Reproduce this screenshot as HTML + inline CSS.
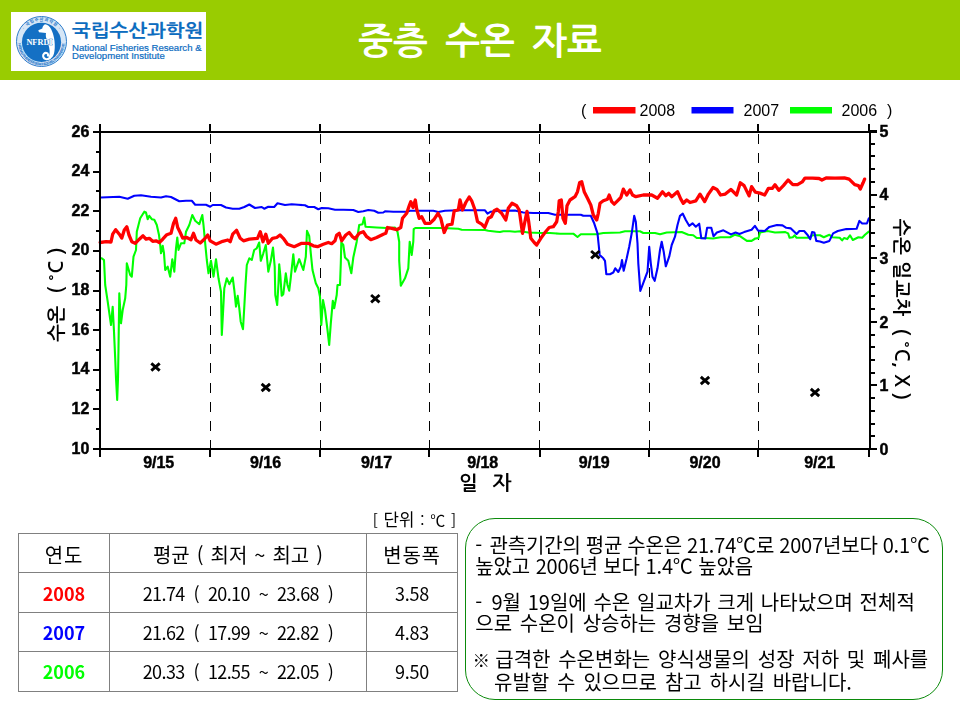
<!DOCTYPE html>
<html lang="ko"><head><meta charset="utf-8"><title>중층 수온 자료</title>
<style>
html,body{margin:0;padding:0;}
body{width:960px;height:720px;position:relative;overflow:hidden;background:#fff;font-family:"Liberation Sans","Noto Sans CJK KR",sans-serif;color:#000;}
.hdr{position:absolute;left:0;top:0;width:960px;height:80px;background:#99cc00;}
.logo{position:absolute;left:11px;top:12px;width:195px;height:59px;background:#fff;}
.title{position:absolute;left:0;top:16.5px;width:960px;text-align:center;color:#fff;font-family:"NanumGothic","Noto Sans CJK KR",sans-serif;font-weight:bold;font-size:37px;line-height:50px;word-spacing:7px;white-space:pre;}
.lk{position:absolute;left:61px;top:6.5px;font-family:"NanumGothic","Noto Sans CJK KR",sans-serif;font-weight:bold;font-size:18px;line-height:24px;color:#0c6cbf;white-space:nowrap;transform:scaleX(1.108);transform-origin:0 0;-webkit-text-stroke:0.15px #0c6cbf;}
.le{position:absolute;left:61px;top:31.8px;font-family:"Liberation Sans",sans-serif;font-size:9.6px;line-height:8.5px;color:#0c6cbf;white-space:nowrap;-webkit-text-stroke:0.2px #0c6cbf;}
.chart{position:absolute;left:0;top:0;}
.unit{position:absolute;left:372.7px;top:508.5px;font-family:"Noto Sans CJK KR",sans-serif;font-weight:400;font-size:15px;line-height:20px;white-space:pre;word-spacing:1.6px;}
table{position:absolute;left:18px;top:533px;border-collapse:collapse;font-family:"Noto Sans CJK KR",sans-serif;font-size:18px;font-weight:400;}
td{border:1px solid #808080;height:38.4px;padding:0;text-align:center;white-space:pre;line-height:38px;}
td.y{width:90px;font-weight:bold;}
td.m{width:256px;letter-spacing:-0.6px;word-spacing:4.4px;}
td.r{width:90px;letter-spacing:-0.3px;}
td.h{font-size:20px;font-weight:400;letter-spacing:0;word-spacing:1.4px;padding-top:3.5px;line-height:34.5px;height:34.9px;}
td.y.h,td.r.h{letter-spacing:0.8px;}
.box{position:absolute;left:465px;top:518px;width:476px;height:180px;border:1.2px solid #0b8a0b;border-radius:30px;background:#fff;}
.box p{position:absolute;left:11px;margin:0;font-family:"Noto Sans CJK KR",sans-serif;font-size:20px;font-weight:400;line-height:21.25px;white-space:pre;}
</style></head><body><div id="pg" style="position:absolute;left:0;top:0;width:960px;height:720px;opacity:0.999">
<div class="hdr"></div>
<div class="logo">
<svg width="195" height="59" viewBox="0 0 195 59" style="position:absolute;left:0;top:0">
<defs><path id="ringT" d="M 9.2 30 A 21.3 21.3 0 0 1 51.8 30"/><path id="ringB" d="M 7.2 30 A 23.3 23.3 0 0 0 53.8 30"/></defs>
<circle cx="30.5" cy="29.5" r="25" fill="#d6e6f6" stroke="#2b7bcb" stroke-width="1"/>
<text font-family="Liberation Sans, 'Noto Sans CJK KR', sans-serif" font-weight="bold" font-size="4.2" fill="#2b7bcb"><textPath href="#ringT" startOffset="50%" text-anchor="middle" textLength="40">· 국립수산과학원 ·</textPath></text>
<text font-family="Liberation Sans, sans-serif" font-weight="bold" font-size="3.6" fill="#2b7bcb"><textPath href="#ringB" startOffset="50%" text-anchor="middle" textLength="70">NATIONAL FISHERIES RESEARCH &amp; DEVELOPMENT INSTITUTE</textPath></text>
<circle cx="30.5" cy="30.3" r="19.6" fill="#1470c4"/>
<path d="M34 12.3C36.5 12.5 39 14.5 40.3 17.5C41.8 20.5 43 24.5 43.5 29C44 34 43.9 38 43 41.5C42.2 44.3 40.8 46 39 47L37.3 45C38.5 43.5 38.8 41 38.6 38.5C38.3 34.5 36.8 31 35.6 27.5C34.9 25.3 34.6 23 35 21L28 20.3L27.3 18.3L31.3 16.6C31.6 14.6 32.5 12.9 34 12.3Z" fill="#fff"/>
<path d="M39.3 45.4C37.5 48 33 47.8 32.2 44.6C31.7 42.2 33.6 40.5 35.6 41C37.2 41.5 37.6 43.4 36.3 44.2" fill="none" stroke="#fff" stroke-width="2.1"/>
<text x="15.4" y="32.9" font-family="Liberation Serif, serif" font-weight="bold" font-size="9" fill="#fff" stroke="#1470c4" stroke-width="0.7" paint-order="stroke" textLength="26.2" lengthAdjust="spacingAndGlyphs">NFRDI</text>
</svg>
<div class="lk">국립수산과학원</div>
<div class="le">National Fisheries Research &amp;<br>Development Institute</div>
</div>
<div class="title">중층 수온 자료</div>
<svg class="chart" width="960" height="720" viewBox="0 0 960 720">
<line x1="210.5" y1="134.2" x2="210.5" y2="449.0" stroke="#000" stroke-width="1" stroke-dasharray="10 9.1" shape-rendering="crispEdges"/>
<line x1="320.5" y1="134.2" x2="320.5" y2="449.0" stroke="#000" stroke-width="1" stroke-dasharray="10 9.1" shape-rendering="crispEdges"/>
<line x1="429.5" y1="134.2" x2="429.5" y2="449.0" stroke="#000" stroke-width="1" stroke-dasharray="10 9.1" shape-rendering="crispEdges"/>
<line x1="539.5" y1="134.2" x2="539.5" y2="449.0" stroke="#000" stroke-width="1" stroke-dasharray="10 9.1" shape-rendering="crispEdges"/>
<line x1="649.5" y1="134.2" x2="649.5" y2="449.0" stroke="#000" stroke-width="1" stroke-dasharray="10 9.1" shape-rendering="crispEdges"/>
<line x1="758.5" y1="134.2" x2="758.5" y2="449.0" stroke="#000" stroke-width="1" stroke-dasharray="10 9.1" shape-rendering="crispEdges"/>
<polyline points="100.5,258.3 101.8,258.3 104.0,260.0 105.2,285.0 107.7,301.7 111.0,325.0 112.7,306.7 114.0,331.7 115.2,358.3 116.0,378.3 117.2,400.0 118.0,378.3 118.5,348.3 119.3,293.3 121.0,323.3 122.7,310.0 125.2,298.3 126.3,285.0 126.8,263.3 130.2,275.0 131.8,276.7 133.5,256.7 136.0,250.0 136.8,231.7 140.2,218.3 144.3,211.7 146.0,212.5 147.7,219.2 149.3,215.8 151.8,219.2 154.3,219.7 156.8,225.0 159.0,235.0 160.2,245.0 161.0,253.3 162.7,245.8 164.0,253.3 165.2,270.0 167.7,266.7 170.2,276.7 172.3,259.2 174.3,271.7 176.0,248.3 177.3,237.5 178.5,250.0 181.0,243.3 184.3,243.3 186.0,231.7 189.3,225.0 192.3,215.0 195.2,220.8 199.3,224.2 202.3,215.0 203.5,225.0 205.2,243.3 206.8,260.0 208.5,273.3 211.0,260.8 213.5,276.7 216.0,259.2 218.5,278.3 221.0,291.7 221.8,335.0 223.0,313.3 224.3,288.3 226.8,278.3 229.3,284.2 232.7,277.5 234.3,290.0 236.0,306.7 237.7,295.8 239.3,308.3 240.7,321.7 243.0,329.2 244.3,306.7 245.5,285.0 246.8,265.0 249.3,258.3 251.8,260.0 254.2,250.0 256.7,248.3 259.2,242.5 260.8,260.8 263.3,253.3 265.8,245.0 268.3,271.7 270.8,260.8 273.0,247.5 274.7,266.7 275.3,295.0 277.2,305.0 278.5,283.3 279.2,264.2 280.3,275.0 281.7,295.8 283.3,294.2 285.8,273.3 287.5,285.0 289.2,290.8 290.8,277.5 293.3,254.2 295.0,271.7 299.2,259.2 303.3,270.0 305.8,256.7 307.0,230.8 309.2,235.8 310.8,253.3 312.5,270.0 315.8,283.3 318.3,288.3 320.0,296.7 321.3,325.0 323.0,300.0 325.0,310.0 327.5,330.0 329.2,345.0 330.8,323.3 332.8,300.8 334.2,308.3 336.7,295.0 337.5,285.0 340.0,285.0 340.8,263.3 341.3,242.5 343.3,245.0 345.0,257.5 348.3,260.8 351.3,273.3 353.3,257.5 356.7,241.7 359.2,225.0 362.5,224.2 364.2,217.5 365.5,226.7 376.7,227.5 386.7,228.0 395.0,227.5 397.5,231.7 399.2,241.7 399.2,260.8 400.8,285.8 405.0,278.3 408.3,268.3 409.7,241.7 411.7,255.0 413.3,241.7 413.7,229.2 415.3,228.0 441.7,228.0 458.3,228.7 461.7,229.7 485.0,230.0 488.3,230.8 496.7,231.7 500.0,232.0 503.3,231.2 510.0,231.2 515.0,231.7 520.0,231.2 528.3,232.5 541.7,233.0 550.0,233.0 560.0,233.7 573.3,233.7 577.5,237.0 580.8,234.2 596.7,234.2 603.3,233.0 620.0,232.5 625.0,231.3 640.0,231.3 643.3,233.0 655.0,233.0 660.0,234.2 666.7,232.5 681.7,232.0 688.3,234.7 693.3,235.3 696.7,238.0 705.0,238.0 713.1,238.5 720.6,237.2 730.0,237.2 734.7,234.8 740.3,236.3 746.9,240.9 751.6,240.9 755.3,238.5 758.5,238.1 760.0,232.5 767.5,231.0 775.0,232.5 785.3,232.1 788.1,233.4 789.6,237.8 792.8,237.2 794.7,235.3 796.6,237.8 809.7,237.8 812.5,235.3 820.0,235.3 823.8,237.2 829.4,234.8 832.2,237.2 839.7,237.8 842.1,240.4 844.0,238.1 847.2,239.1 850.0,235.3 852.8,240.0 858.4,237.2 862.2,237.8 865.0,234.8 868.8,231.6" fill="none" stroke="#00ff00" stroke-width="2.1" stroke-linejoin="round" stroke-linecap="round"/>
<polyline points="101.0,197.5 119.3,196.7 127.7,198.7 134.3,195.8 141.0,195.3 151.0,196.7 161.0,197.5 166.0,196.2 171.0,197.0 179.3,201.3 186.0,200.8 191.8,200.8 195.2,204.7 206.0,204.7 210.2,206.7 212.7,205.0 221.0,205.0 226.0,207.5 232.7,208.7 239.3,208.7 244.3,207.0 249.3,204.5 255.0,208.0 261.7,207.0 264.2,208.7 268.3,206.7 274.2,207.0 277.5,203.3 285.0,205.0 291.7,204.2 298.3,204.7 305.0,205.3 308.3,207.0 314.2,207.0 318.3,209.2 321.7,208.0 328.3,208.3 335.0,209.7 343.3,209.7 353.3,210.0 358.3,212.0 363.3,211.3 368.3,210.0 374.2,210.8 378.3,212.8 383.3,212.5 385.0,211.3 393.3,211.7 406.7,211.7 410.0,210.8 433.3,210.8 438.3,212.0 445.0,210.8 458.3,210.3 485.0,210.3 487.5,213.7 490.8,211.7 500.0,210.8 515.0,210.5 523.3,212.5 533.3,213.0 548.3,213.0 555.0,214.7 560.0,214.7 580.8,214.7 583.3,215.8 590.8,215.8 594.2,223.3 597.5,233.3 598.7,245.0 599.7,255.0 603.3,258.3 605.0,260.8 606.3,274.2 610.0,274.2 613.3,272.5 615.3,268.3 618.3,272.0 620.8,266.7 622.0,260.0 623.7,270.8 626.7,258.3 629.2,246.7 631.7,233.3 634.2,215.8 635.8,221.7 637.5,243.3 638.3,263.3 640.3,291.0 645.0,278.3 647.5,271.7 649.2,246.7 650.8,263.3 652.5,276.7 654.7,280.8 657.5,268.3 660.0,250.0 661.7,241.7 663.7,251.7 665.8,266.3 669.2,256.7 671.7,245.0 675.0,236.7 677.5,225.0 680.0,215.8 682.8,213.7 685.8,220.0 689.2,225.8 692.5,223.3 695.8,226.7 699.2,223.7 701.3,238.3 705.3,238.5 707.1,227.8 711.3,227.8 713.5,236.3 716.9,232.5 723.4,230.3 730.9,234.4 735.6,232.5 739.4,234.0 744.1,232.1 751.6,229.7 754.9,225.9 758.1,230.6 764.7,231.0 769.4,226.9 776.9,225.0 782.5,225.4 786.3,227.8 790.9,228.4 796.6,234.0 799.4,231.0 804.1,231.0 807.8,235.3 810.3,239.1 812.1,232.1 814.4,232.5 816.3,240.9 820.0,241.5 823.8,242.8 829.4,240.9 833.1,233.4 837.8,231.0 846.3,229.1 856.6,228.8 859.4,220.9 862.2,223.5 866.9,223.5 868.8,218.4" fill="none" stroke="#0000ff" stroke-width="2.1" stroke-linejoin="round" stroke-linecap="round"/>
<polyline points="100.2,242.5 106.0,241.7 111.0,242.0 112.7,234.2 115.7,229.7 119.3,234.2 121.8,238.0 124.3,230.0 126.8,226.7 129.0,235.0 131.8,241.7 135.2,243.3 139.3,239.2 143.0,235.8 146.0,239.2 149.3,238.3 152.7,241.3 156.0,240.8 159.3,242.5 162.7,239.2 166.8,234.7 171.0,233.3 173.5,223.3 175.7,218.3 177.7,227.5 180.2,232.5 182.7,238.0 186.8,237.5 191.0,239.7 193.5,233.3 196.0,240.0 200.2,243.0 204.3,239.2 207.7,235.0 210.2,240.8 216.0,244.2 222.7,241.3 227.7,240.0 230.2,241.7 232.7,234.2 236.5,230.3 240.2,238.3 243.5,240.8 249.3,239.2 257.5,238.3 260.3,231.7 263.0,241.7 265.8,234.2 268.3,243.3 272.5,238.3 276.7,237.5 280.0,235.0 283.3,238.3 287.5,244.2 294.2,246.7 301.7,243.3 308.3,243.3 313.3,245.8 317.5,246.7 323.3,244.2 328.3,242.5 331.7,243.7 335.0,240.8 336.7,235.0 339.2,233.3 341.7,240.8 345.8,235.0 349.2,232.5 352.5,236.7 355.0,238.7 359.2,233.3 363.3,231.7 366.7,236.7 370.8,239.7 376.7,237.5 383.3,234.2 385.8,233.3 387.5,227.5 391.7,228.3 396.7,229.7 400.8,227.5 402.5,218.3 406.7,213.3 409.2,205.8 410.8,201.7 413.0,207.5 415.3,200.0 416.7,209.2 419.2,218.3 421.7,216.7 425.0,223.3 430.0,223.3 434.2,219.2 438.0,213.3 440.8,218.3 444.2,232.5 447.5,225.0 452.0,224.2 454.2,210.8 458.3,210.0 460.0,200.0 462.5,210.0 465.8,202.5 469.2,197.0 471.7,200.8 475.0,210.0 477.5,221.7 481.7,224.2 484.7,227.5 488.3,218.3 491.3,216.7 494.2,210.8 497.0,209.2 501.7,213.3 505.8,220.0 508.3,208.3 512.0,203.3 516.7,205.8 519.2,210.0 522.5,233.3 524.2,225.0 527.0,211.3 528.7,221.7 530.8,238.3 534.2,242.5 536.7,245.0 540.8,238.3 545.0,232.5 549.2,227.5 553.3,226.7 556.7,221.7 558.3,211.7 559.2,200.8 561.3,200.0 563.0,218.3 565.3,223.3 567.0,205.8 570.0,200.0 575.0,196.7 577.5,191.7 579.7,182.5 581.7,181.7 584.2,191.7 587.5,198.3 590.8,205.0 593.3,215.0 596.7,220.0 598.3,213.3 600.0,203.3 603.3,200.8 607.5,199.2 609.2,195.0 611.7,201.7 614.2,204.2 617.5,200.8 620.8,197.5 623.3,189.2 626.7,195.0 630.0,190.0 632.5,195.0 635.8,196.7 643.3,195.0 651.7,195.0 657.5,198.3 662.5,191.7 665.8,195.8 668.7,193.3 671.7,196.7 677.5,191.7 680.8,199.2 683.3,203.3 686.7,200.0 690.0,202.5 695.8,200.8 700.0,194.2 704.7,201.6 708.4,194.1 713.1,187.5 716.9,189.4 720.6,195.0 725.3,194.1 730.9,189.4 736.6,195.0 740.3,182.8 744.1,185.6 749.1,195.9 751.6,186.6 755.3,192.2 760.0,193.1 764.7,195.0 768.4,188.4 772.2,188.4 775.0,184.7 778.8,190.3 783.4,185.6 788.1,180.0 792.8,184.7 797.5,184.7 802.2,181.9 805.0,178.1 812.5,178.1 819.1,178.5 821.9,180.0 826.6,177.8 835.0,178.1 844.4,177.8 849.1,179.1 854.7,184.7 858.4,185.6 860.3,189.0 863.1,182.8 864.6,179.1" fill="none" stroke="#ff0000" stroke-width="3.3" stroke-linejoin="round" stroke-linecap="round"/>
<path d="M151.3 363.3L159.7 370.7M151.3 370.7L159.7 363.3" stroke="#000" stroke-width="2.9" fill="none"/>
<path d="M261.6 383.8L270.0 391.2M261.6 391.2L270.0 383.8" stroke="#000" stroke-width="2.9" fill="none"/>
<path d="M371.1 295.0L379.5 302.4M371.1 302.4L379.5 295.0" stroke="#000" stroke-width="2.9" fill="none"/>
<path d="M591.1 251.0L599.5 258.4M591.1 258.4L599.5 251.0" stroke="#000" stroke-width="2.9" fill="none"/>
<path d="M700.8 376.8L709.2 384.2M700.8 384.2L709.2 376.8" stroke="#000" stroke-width="2.9" fill="none"/>
<path d="M810.8 388.8L819.2 396.2M810.8 396.2L819.2 388.8" stroke="#000" stroke-width="2.9" fill="none"/>
<g stroke="#000" stroke-width="2" fill="none" shape-rendering="crispEdges">
<line x1="100.0" y1="124.0" x2="100.0" y2="457.0"/>
<line x1="870.0" y1="132.0" x2="870.0" y2="449.0"/>
<line x1="869.0" y1="124.0" x2="869.0" y2="132.0"/>
<line x1="869.0" y1="449.0" x2="869.0" y2="457.0"/>
<line x1="93.0" y1="132.0" x2="877.0" y2="132.0"/>
<line x1="93.0" y1="449.0" x2="877.0" y2="449.0"/>
<line x1="210.0" y1="124.0" x2="210.0" y2="132.0"/>
<line x1="210.0" y1="449.0" x2="210.0" y2="457.0"/>
<line x1="320.0" y1="124.0" x2="320.0" y2="132.0"/>
<line x1="320.0" y1="449.0" x2="320.0" y2="457.0"/>
<line x1="429.0" y1="124.0" x2="429.0" y2="132.0"/>
<line x1="429.0" y1="449.0" x2="429.0" y2="457.0"/>
<line x1="540.0" y1="124.0" x2="540.0" y2="132.0"/>
<line x1="540.0" y1="449.0" x2="540.0" y2="457.0"/>
<line x1="649.0" y1="124.0" x2="649.0" y2="132.0"/>
<line x1="649.0" y1="449.0" x2="649.0" y2="457.0"/>
<line x1="758.0" y1="124.0" x2="758.0" y2="132.0"/>
<line x1="758.0" y1="449.0" x2="758.0" y2="457.0"/>
<line x1="93.0" y1="449.0" x2="100.0" y2="449.0"/>
<line x1="96.0" y1="429.2" x2="100.0" y2="429.2"/>
<line x1="93.0" y1="409.4" x2="100.0" y2="409.4"/>
<line x1="96.0" y1="389.6" x2="100.0" y2="389.6"/>
<line x1="93.0" y1="369.8" x2="100.0" y2="369.8"/>
<line x1="96.0" y1="349.9" x2="100.0" y2="349.9"/>
<line x1="93.0" y1="330.1" x2="100.0" y2="330.1"/>
<line x1="96.0" y1="310.3" x2="100.0" y2="310.3"/>
<line x1="93.0" y1="290.5" x2="100.0" y2="290.5"/>
<line x1="96.0" y1="270.7" x2="100.0" y2="270.7"/>
<line x1="93.0" y1="250.9" x2="100.0" y2="250.9"/>
<line x1="96.0" y1="231.1" x2="100.0" y2="231.1"/>
<line x1="93.0" y1="211.2" x2="100.0" y2="211.2"/>
<line x1="96.0" y1="191.4" x2="100.0" y2="191.4"/>
<line x1="93.0" y1="171.6" x2="100.0" y2="171.6"/>
<line x1="96.0" y1="151.8" x2="100.0" y2="151.8"/>
<line x1="93.0" y1="132.0" x2="100.0" y2="132.0"/>
<line x1="870.0" y1="449.0" x2="877.0" y2="449.0"/>
<line x1="870.0" y1="436.3" x2="875.0" y2="436.3"/>
<line x1="870.0" y1="423.6" x2="875.0" y2="423.6"/>
<line x1="870.0" y1="410.8" x2="875.0" y2="410.8"/>
<line x1="870.0" y1="398.1" x2="875.0" y2="398.1"/>
<line x1="870.0" y1="385.4" x2="877.0" y2="385.4"/>
<line x1="870.0" y1="372.7" x2="875.0" y2="372.7"/>
<line x1="870.0" y1="360.0" x2="875.0" y2="360.0"/>
<line x1="870.0" y1="347.2" x2="875.0" y2="347.2"/>
<line x1="870.0" y1="334.5" x2="875.0" y2="334.5"/>
<line x1="870.0" y1="321.8" x2="877.0" y2="321.8"/>
<line x1="870.0" y1="309.1" x2="875.0" y2="309.1"/>
<line x1="870.0" y1="296.4" x2="875.0" y2="296.4"/>
<line x1="870.0" y1="283.6" x2="875.0" y2="283.6"/>
<line x1="870.0" y1="270.9" x2="875.0" y2="270.9"/>
<line x1="870.0" y1="258.2" x2="877.0" y2="258.2"/>
<line x1="870.0" y1="245.5" x2="875.0" y2="245.5"/>
<line x1="870.0" y1="232.8" x2="875.0" y2="232.8"/>
<line x1="870.0" y1="220.0" x2="875.0" y2="220.0"/>
<line x1="870.0" y1="207.3" x2="875.0" y2="207.3"/>
<line x1="870.0" y1="194.6" x2="877.0" y2="194.6"/>
<line x1="870.0" y1="181.9" x2="875.0" y2="181.9"/>
<line x1="870.0" y1="169.2" x2="875.0" y2="169.2"/>
<line x1="870.0" y1="156.4" x2="875.0" y2="156.4"/>
<line x1="870.0" y1="143.7" x2="875.0" y2="143.7"/>
<line x1="870.0" y1="131.0" x2="877.0" y2="131.0"/>
</g>
<g font-family="Liberation Sans, sans-serif" font-weight="bold" font-size="16" fill="#000" stroke="#000" stroke-width="0.45">
<text x="89.3" y="453.5" text-anchor="end">10</text>
<text x="89.3" y="413.9" text-anchor="end">12</text>
<text x="89.3" y="374.2" text-anchor="end">14</text>
<text x="89.3" y="334.6" text-anchor="end">16</text>
<text x="89.3" y="295.0" text-anchor="end">18</text>
<text x="89.3" y="255.4" text-anchor="end">20</text>
<text x="89.3" y="215.8" text-anchor="end">22</text>
<text x="89.3" y="176.1" text-anchor="end">24</text>
<text x="89.3" y="136.5" text-anchor="end">26</text>
<text x="879.4" y="454.7">0</text>
<text x="879.4" y="391.1">1</text>
<text x="879.4" y="327.5">2</text>
<text x="879.4" y="263.9">3</text>
<text x="879.4" y="200.3">4</text>
<text x="879.4" y="136.7">5</text>
<text x="158.7" y="467.7" text-anchor="middle">9/15</text>
<text x="265.5" y="467.7" text-anchor="middle">9/16</text>
<text x="376.5" y="467.7" text-anchor="middle">9/17</text>
<text x="482.7" y="467.7" text-anchor="middle">9/18</text>
<text x="594.2" y="467.7" text-anchor="middle">9/19</text>
<text x="705.0" y="467.7" text-anchor="middle">9/20</text>
<text x="819.7" y="467.7" text-anchor="middle">9/21</text>
</g>
<g font-family="Liberation Sans, sans-serif" font-size="16" fill="#000">
<text x="581" y="116">(</text>
<rect x="593" y="107" width="42.5" height="6.5" fill="#ff0000"/>
<text x="639.5" y="116">2008</text>
<rect x="691.5" y="107" width="42" height="6.5" fill="#0000ff"/>
<text x="743.5" y="116">2007</text>
<rect x="790" y="107" width="42" height="6.5" fill="#00ff00"/>
<text x="841.5" y="116">2006</text>
<text x="887" y="116">)</text>
</g>
<g font-family="NanumGothic, 'Noto Sans CJK KR', sans-serif" font-weight="bold" fill="#000">
<text font-size="19" letter-spacing="0.5" transform="translate(63.3,294.4) rotate(-90)" text-anchor="middle" xml:space="preserve">수온  ( ˚C )</text>
<text font-size="19" letter-spacing="0.55" transform="translate(894.7,309.8) rotate(90)" text-anchor="middle" xml:space="preserve">수온 일교차  ( ˚C, X )</text>
<text font-size="20" x="458.9" y="489.5" xml:space="preserve">일</text>
<text font-size="20" x="492.5" y="489.5" xml:space="preserve">자</text>
</g>
</svg>
<div class="unit">[ <span style="font-size:16.8px">단위</span> : ℃ ]</div>
<table>
<tr><td class="y h">연도</td><td class="m h">평균 ( 최저 ~ 최고 )</td><td class="r h">변동폭</td></tr>
<tr><td class="y" style="color:#ff0000">2008</td><td class="m">21.74 ( 20.10 ~ 23.68 )</td><td class="r">3.58</td></tr>
<tr><td class="y" style="color:#0000ff">2007</td><td class="m">21.62 ( 17.99 ~ 22.82 )</td><td class="r">4.83</td></tr>
<tr><td class="y" style="color:#00ff00">2006</td><td class="m">20.33 ( 12.55 ~ 22.05 )</td><td class="r">9.50</td></tr>
</table>
<div class="box">
<p id="l1" style="top:14.8px;left:9.25px;word-spacing:-0.42px;letter-spacing:-0.165px"><span style="margin-right:2.5px">-</span> 관측기간의 평균 수온은 21.74℃로 2007년보다 0.1℃</p>
<p id="l2" style="top:35.75px;left:9.25px;word-spacing:0.2px;letter-spacing:-0.15px">높았고 2006년 보다 1.4℃ 높았음</p>
<p id="l3" style="top:71.75px;left:9.25px;word-spacing:1.1400000000000001px;letter-spacing:0px"><span style="margin-right:2.5px">-</span> 9월 19일에 수온 일교차가 크게 나타났으며 전체적</p>
<p id="l4" style="top:93.15px;left:9.25px;word-spacing:2.1px;letter-spacing:0px">으로 수온이 상승하는 경향을 보임</p>
<p id="l5" style="top:129.2px;left:6.5px;word-spacing:2.16px;letter-spacing:0px"><span style="font-size:17.5px;margin-right:-2.5px;position:relative;top:-0.5px">※</span> 급격한 수온변화는 양식생물의 성장 저하 및 폐사를</p>
<p id="l6" style="top:152.15px;left:28px;word-spacing:2.3px;letter-spacing:0px">유발할 수 있으므로 참고 하시길 바랍니다.</p>
</div>
</div>
</body></html>
